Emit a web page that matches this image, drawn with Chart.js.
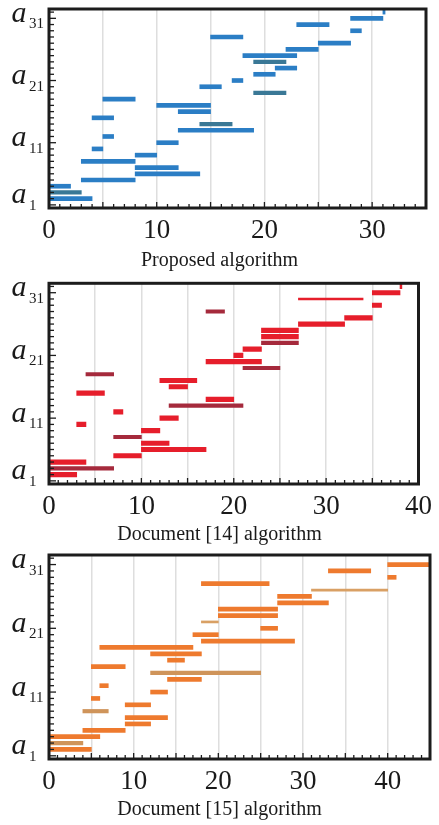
<!DOCTYPE html>
<html>
<head>
<meta charset="utf-8">
<title>Activity schedules</title>
<script src="https://cdn.jsdelivr.net/npm/chart.js@4.4.1/dist/chart.umd.min.js"></script>
<style>
  body { margin: 0; background: #fff; }
  .box { position: absolute; left: 0; width: 439px; }
</style>
</head>
<body>
<div class="box" style="top:0;height:275px"><canvas id="chartProposed"></canvas></div>
<div class="box" style="top:275px;height:273px"><canvas id="chartDoc14"></canvas></div>
<div class="box" style="top:548px;height:277px"><canvas id="chartDoc15"></canvas></div>
<script>
const activities = ["a1", "a2", "a3", "a4", "a5", "a6", "a7", "a8", "a9", "a10",
  "a11", "a12", "a13", "a14", "a15", "a16", "a17", "a18", "a19", "a20",
  "a21", "a22", "a23", "a24", "a25", "a26", "a27", "a28", "a29", "a30",
  "a31", "a32"];
// only these activities get a label on the y axis
const yLabelRows = [0, 10, 20, 30];
const yLabelSubs = ["1", "11", "21", "31"];

// Proposed algorithm (start / finish per activity, tone 0 normal, 1 dark, 2 thin)
const proposedStart = [0, 0, 0, 0, 3, 8, 8, 3, 8, 4, 10, 5, 12, 14, 4, 12, 10, 5, 19, 14, 17, 19, 21, 19, 18, 22, 25, 15, 28, 23, 28, 31];
const proposedEnd   = [0, 4, 3, 2, 8, 14, 12, 8, 10, 5, 12, 6, 19, 17, 6, 15, 15, 8, 22, 16, 18, 21, 23, 22, 23, 25, 28, 18, 29, 26, 31, 31.2];
const proposedTone  = [0, 0, 1, 0, 0, 0, 0, 0, 0, 0, 0, 0, 0, 1, 0, 0, 0, 0, 1, 0, 0, 0, 0, 1, 0, 0, 0, 0, 0, 0, 0, 0];
const proposedTicks = [0, 10, 20, 30];

// Document [14] algorithm
const doc14Start = [0, 0, 0, 0, 7, 10, 10, 7, 10, 3, 12, 7, 13, 17, 3, 13, 12, 4, 21, 17, 20, 21, 23, 23, 23, 27, 32, 17, 35, 27, 35, 38];
const doc14End   = [0, 3, 7, 4, 10, 17, 13, 10, 12, 4, 14, 8, 21, 20, 6, 15, 16, 7, 25, 23, 21, 23, 27, 27, 27, 32, 35, 19, 36, 34, 38, 38.2];
const doc14Tone  = [0, 0, 1, 0, 0, 0, 0, 1, 0, 0, 0, 0, 1, 0, 0, 0, 0, 1, 1, 0, 0, 0, 1, 0, 0, 0, 0, 1, 0, 2, 0, 0];
const doc14Ticks = [0, 10, 20, 30, 40];

// Document [15] algorithm
const doc15Start = [0, 0, 0, 0, 4, 9, 9, 4, 9, 5, 12, 6, 14, 12, 5, 14, 12, 6, 18, 17, 25, 18, 20, 20, 27, 27, 31, 18, 40, 33, 40, 45];
const doc15End   = [0, 5, 4, 6, 9, 12, 14, 7, 12, 6, 14, 7, 18, 25, 9, 16, 18, 17, 29, 20, 27, 20, 27, 27, 33, 31, 40, 26, 41, 38, 45, 45];
const doc15Tone  = [0, 0, 1, 0, 0, 0, 0, 1, 0, 0, 0, 0, 0, 1, 0, 0, 0, 0, 0, 0, 0, 2, 0, 0, 0, 0, 2, 0, 0, 0, 0, 0];
const doc15Ticks = [0, 10, 20, 30, 40];

let ganttFrame = {
  id: "ganttFrame",
  afterDraw(chart) {
    const ctx = chart.ctx;
    const a = chart.chartArea;
    const xs = chart.scales.x;
    const ys = chart.scales.y;
    ctx.save();
    ctx.strokeStyle = "#1c1c1c";
    ctx.lineWidth = 1.3;
    // small inward ticks, one per activity
    activities.forEach((name, i) => {
      const y = ys.getPixelForValue(i);
      const len = yLabelRows.includes(i) ? 7 : 5;
      ctx.beginPath();
      ctx.moveTo(a.left, y);
      ctx.lineTo(a.left + len, y);
      ctx.stroke();
    });
    for (let t = 0; t <= xs.max; t++) {
      const x = xs.getPixelForValue(t);
      const len = t % 5 === 0 ? 6 : 4;
      ctx.beginPath();
      ctx.moveTo(x, a.bottom);
      ctx.lineTo(x, a.bottom - len);
      ctx.stroke();
    }
    ctx.lineWidth = 3;
    ctx.strokeRect(a.left, a.top, a.right - a.left, a.bottom - a.top);

    // a with subscript labels
    ctx.fillStyle = "#1a1a1a";
    ctx.textAlign = "left";
    ctx.textBaseline = "alphabetic";
    yLabelRows.forEach((i, k) => {
      const y = ys.getPixelForValue(i);
      const base = Math.min(y + 3.5, a.bottom - 5);
      ctx.font = "italic 30px 'Liberation Serif'";
      ctx.fillText("a", 11.5, base);
      ctx.font = "15px 'Liberation Serif'";
      ctx.fillText(yLabelSubs[k], 29, base + 6.5);
    });
    ctx.restore();
  }
};

let gantt = (id, starts, ends, tones, palette, xMax, xTicks, title, g) => {
  const datasets = palette.map((p, tone) => ({
    data: activities
      .map((name, i) => (tones[i] === tone ? { x: [starts[i], ends[i]], y: name } : null))
      .filter((d) => d !== null),
    backgroundColor: p.color,
    barThickness: p.width,
    borderWidth: 0,
    grouped: false
  }));
  return new Chart(document.getElementById(id), {
    type: "bar",
    data: { labels: activities, datasets: datasets },
    options: {
      indexAxis: "y",
      responsive: true,
      maintainAspectRatio: false,
      animation: false,
      devicePixelRatio: 1,
      layout: { padding: { top: g.top, left: 0, right: 0, bottom: 0 } },
      plugins: {
        legend: { display: false },
        tooltip: { enabled: false },
        title: {
          display: true,
          text: title,
          position: "bottom",
          color: "#1a1a1a",
          font: { family: "Liberation Serif", size: 20, weight: "normal" },
          padding: { top: 0, bottom: g.titleBottom }
        }
      },
      scales: {
        x: {
          type: "linear",
          min: 0,
          max: xMax,
          grid: { color: "#dedede", lineWidth: 1.5, drawTicks: false },
          border: { display: false },
          ticks: {
            stepSize: 5,
            autoSkip: false,
            maxRotation: 0,
            padding: 7,
            color: "#1a1a1a",
            font: { family: "Liberation Serif", size: 27 },
            callback: (v) => (xTicks.includes(v) ? String(v) : "")
          },
          afterFit: (s) => { s.height = g.axisH; }
        },
        y: {
          type: "category",
          labels: activities,
          reverse: true,
          offset: true,
          grid: { display: false },
          border: { display: false },
          ticks: { display: false },
          afterFit: (s) => { s.width = 49; }
        },
        yEdge: {
          type: "linear",
          position: "right",
          grid: { display: false },
          border: { display: false },
          ticks: { display: false },
          afterFit: (s) => { s.width = g.right; }
        }
      }
    },
    plugins: [ganttFrame]
  });
};

gantt("chartProposed", proposedStart, proposedEnd, proposedTone,
  [{ color: "#2b7ec5", width: 4 }, { color: "#3a7896", width: 3.5 }, { color: "#2b7ec5", width: 2 }],
  35, proposedTicks, "Proposed algorithm",
  { top: 9, right: 13, axisH: 41, titleBottom: 2 });

gantt("chartDoc14", doc14Start, doc14End, doc14Tone,
  [{ color: "#e61e2b", width: 4.5 }, { color: "#a52a3c", width: 3.5 }, { color: "#e61e2b", width: 2 }],
  40, doc14Ticks, "Document [14] algorithm",
  { top: 8.3, right: 15.7, axisH: 38.5, titleBottom: 1.5 });

gantt("chartDoc15", doc15Start, doc15End, doc15Tone,
  [{ color: "#ee7a2e", width: 4 }, { color: "#cf945a", width: 3.5 }, { color: "#d9a064", width: 2 }],
  45, doc15Ticks, "Document [15] algorithm",
  { top: 7, right: 9, axisH: 38.7, titleBottom: 3.3 });
</script>
</body>
</html>
